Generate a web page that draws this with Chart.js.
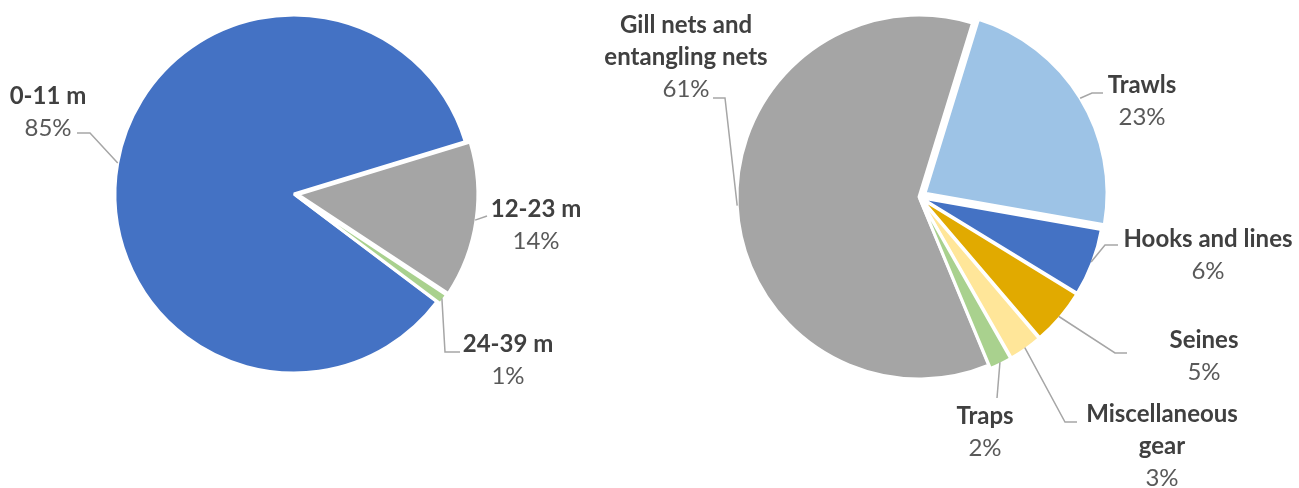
<!DOCTYPE html>
<html>
<head>
<meta charset="utf-8">
<script src="https://cdn.jsdelivr.net/npm/chart.js@4.4.1/dist/chart.umd.min.js"></script>
<style>
    html, body { margin: 0; padding: 0; background: #fff; }
    #wrap { position: relative; width: 1299px; height: 488px; overflow: hidden; }
    canvas { position: absolute; top: 0; }
</style>
</head>
<body>
<div id="wrap">
    <canvas id="vessel-chart" width="580" height="488" style="left:0"></canvas>
    <canvas id="gear-chart" width="719" height="488" style="left:580px"></canvas>
</div>
<script>
// --- Data ---
const vesselLengths = ['0-11 m', '12-23 m', '24-39 m'];
const vesselShares = [85, 14, 1];

const gearTypes = ['Gill nets and entangling nets', 'Trawls', 'Hooks and lines', 'Seines', 'Miscellaneous gear', 'Traps'];
const gearShares = [61, 23, 6, 5, 3, 2];

// --- Colours ---
const vesselColors = ['#4472C4', '#A5A5A5', '#A9D18E'];
const gearColors = ['#A5A5A5', '#9DC3E6', '#4472C4', '#E1AA00', '#FFE699', '#A9D18E'];

// --- Label layout, offsets from the pie centre (text = centre x / first baseline) ---
const vesselLabelLayout = [
    { text: [-246, -90], elbow: [-204, -61], end: [-217, -61], wrap: 400 },
    { text: [242, 23], elbow: [193, 22], end: [193, 22], wrap: 400 },
    { text: [214, 158], elbow: [151, 158], end: [166, 158], wrap: 400 }
];
const gearLabelLayout = [
    { text: [-233, -164], elbow: [-194, -99], end: [-206, -99], wrap: 200 },
    { text: [223, -104], elbow: [173, -104], end: [184, -104], wrap: 400 },
    { text: [289, 50], elbow: [186, 48], end: [199, 48], wrap: 400 },
    { text: [285, 151], elbow: [196, 156], end: [208, 156], wrap: 400 },
    { text: [243, 225], elbow: [146, 225], end: [158, 225], wrap: 190 },
    { text: [66, 227], elbow: [78, 201], end: [78, 201], wrap: 400 }
];

const FONT_FAMILY = 'Lato, "Noto Sans", sans-serif';
const FONT_SIZE = 24;
const LINE_HEIGHT = 32;

function wrapText(ctx, text, maxWidth) {
    const words = text.split(' ');
    const lines = [];
    let line = '';
    words.forEach(w => {
        const test = line ? line + ' ' + w : w;
        if (line && ctx.measureText(test).width > maxWidth) {
            lines.push(line);
            line = w;
        } else {
            line = test;
        }
    });
    if (line) lines.push(line);
    return lines;
}

// draws the data labels with their leader lines
const calloutPlugin = {
    id: 'callouts',
    afterDatasetsDraw(chart, args, opts) {
        const ctx = chart.ctx;
        const meta = chart.getDatasetMeta(0);
        const labels = chart.data.labels;
        const values = chart.data.datasets[0].data;
        const offsets = chart.data.datasets[0].offset;
        ctx.save();
        meta.data.forEach((arc, i) => {
            const lay = opts.layout[i];
            const p = arc.getProps(['x', 'y', 'startAngle', 'endAngle', 'outerRadius'], true);
            const mid = (p.startAngle + p.endAngle) / 2;
            const shift = (offsets[i] || 0) / 4;
            const r = p.outerRadius + shift;
            const sx = p.x + Math.cos(mid) * r;
            const sy = p.y + Math.sin(mid) * r;

            // leader line
            ctx.strokeStyle = '#A6A6A6';
            ctx.lineWidth = 1.5;
            ctx.beginPath();
            ctx.moveTo(sx, sy);
            ctx.lineTo(p.x + lay.elbow[0], p.y + lay.elbow[1]);
            ctx.lineTo(p.x + lay.end[0], p.y + lay.end[1]);
            ctx.stroke();

            // text
            ctx.textAlign = 'center';
            ctx.textBaseline = 'alphabetic';
            ctx.font = `bold ${FONT_SIZE}px ${FONT_FAMILY}`;
            ctx.fillStyle = '#404040';
            const lines = wrapText(ctx, labels[i], lay.wrap);
            let y = p.y + lay.text[1];
            const x = p.x + lay.text[0];
            lines.forEach(l => {
                ctx.fillText(l, x, y);
                y += LINE_HEIGHT;
            });
            ctx.font = `${FONT_SIZE}px ${FONT_FAMILY}`;
            ctx.fillStyle = '#595959';
            ctx.fillText(values[i] + '%', x, y);
        });
        ctx.restore();
    }
};

function makePie(canvasId, labels, values, colors, offsets, rotation, radius, padding, layout) {
    return new Chart(document.getElementById(canvasId), {
        type: 'pie',
        data: {
            labels: labels,
            datasets: [{
                data: values,
                backgroundColor: colors,
                borderColor: '#ffffff',
                borderWidth: 3,
                offset: offsets
            }]
        },
        options: {
            responsive: false,
            animation: false,
            rotation: rotation,
            radius: radius,
            layout: { padding: padding },
            plugins: {
                legend: { display: false },
                tooltip: { enabled: false },
                callouts: { layout: layout }
            }
        },
        plugins: [calloutPlugin]
    });
}

// left pie centred at (294, 194), right pie at (919, 197)
makePie('vessel-chart', vesselLengths, vesselShares, vesselColors, [0, 16, 8], 127, 179,
    { left: 8, right: 0, top: 0, bottom: 100 }, vesselLabelLayout);

makePie('gear-chart', gearTypes, gearShares, gearColors, [0, 28, 8, 8, 8, 8], 157.5, 182,
    { left: 0, right: 41, top: 0, bottom: 94 }, gearLabelLayout);
</script>
</body>
</html>
